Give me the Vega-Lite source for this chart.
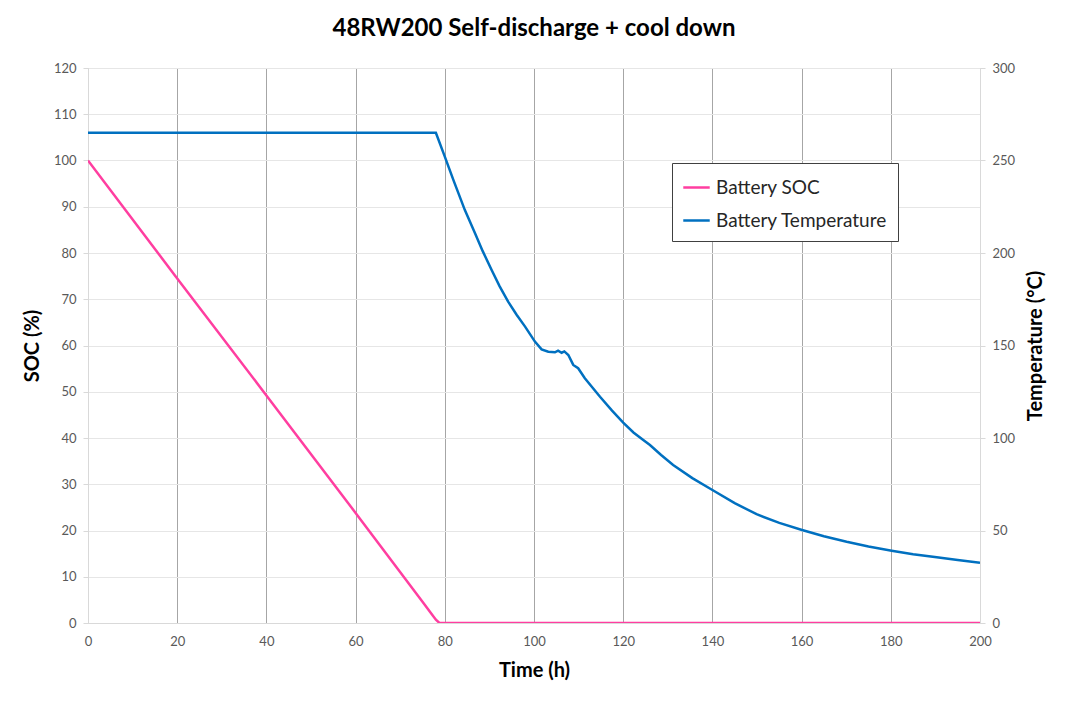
{
  "$schema": "https://vega.github.io/schema/vega-lite/v6.json",
  "autosize": {"type": "none"},
  "padding": {"left": 88, "top": 68, "right": 86, "bottom": 81},
  "width": 892,
  "height": 555,
  "background": "white",
  "title": {
    "text": "48RW200 Self-discharge + cool down",
    "font": "Lato",
    "fontSize": 24,
    "fontWeight": "bold",
    "color": "#000000",
    "anchor": "middle",
    "offset": 21
  },
  "config": {
    "view": {"stroke": null},
    "axis": {
      "labelFont": "Lato",
      "labelFontSize": 13,
      "labelColor": "#595959",
      "titleFont": "Lato",
      "titleFontSize": 20,
      "titleFontWeight": "bold",
      "titleColor": "#000000",
      "domainColor": "#d9d9d9",
      "tickColor": "#d9d9d9"
    }
  },
  "data": {
    "values": [
      {"t": 0, "series": "Battery SOC", "v": 100},
      {"t": 20, "series": "Battery SOC", "v": 74.5},
      {"t": 40, "series": "Battery SOC", "v": 49.2},
      {"t": 60, "series": "Battery SOC", "v": 23.8},
      {"t": 75, "series": "Battery SOC", "v": 4.6},
      {"t": 77, "series": "Battery SOC", "v": 2.0},
      {"t": 78, "series": "Battery SOC", "v": 0.7},
      {"t": 78.8, "series": "Battery SOC", "v": 0},
      {"t": 100, "series": "Battery SOC", "v": 0},
      {"t": 150, "series": "Battery SOC", "v": 0},
      {"t": 200, "series": "Battery SOC", "v": 0},
      {"t": 0, "series": "Battery Temperature", "v": 265},
      {"t": 40, "series": "Battery Temperature", "v": 265},
      {"t": 78.0, "series": "Battery Temperature", "v": 265},
      {"t": 80.0, "series": "Battery Temperature", "v": 252.1},
      {"t": 82.0, "series": "Battery Temperature", "v": 239.0},
      {"t": 84.5, "series": "Battery Temperature", "v": 223.2},
      {"t": 86.8, "series": "Battery Temperature", "v": 210.6},
      {"t": 88.5, "series": "Battery Temperature", "v": 201.0},
      {"t": 90.5, "series": "Battery Temperature", "v": 190.8},
      {"t": 92.3, "series": "Battery Temperature", "v": 182.0},
      {"t": 94.2, "series": "Battery Temperature", "v": 173.7},
      {"t": 96.1, "series": "Battery Temperature", "v": 166.6},
      {"t": 98.0, "series": "Battery Temperature", "v": 160.2},
      {"t": 100.2, "series": "Battery Temperature", "v": 152.1},
      {"t": 101.7, "series": "Battery Temperature", "v": 147.9},
      {"t": 103.2, "series": "Battery Temperature", "v": 146.6},
      {"t": 104.7, "series": "Battery Temperature", "v": 146.3},
      {"t": 105.4, "series": "Battery Temperature", "v": 147.2},
      {"t": 106.2, "series": "Battery Temperature", "v": 146.1},
      {"t": 106.8, "series": "Battery Temperature", "v": 146.8},
      {"t": 107.7, "series": "Battery Temperature", "v": 144.9},
      {"t": 108.8, "series": "Battery Temperature", "v": 139.5},
      {"t": 109.9, "series": "Battery Temperature", "v": 137.7},
      {"t": 111.4, "series": "Battery Temperature", "v": 132.3},
      {"t": 114.8, "series": "Battery Temperature", "v": 122.3},
      {"t": 117.5, "series": "Battery Temperature", "v": 114.8},
      {"t": 120.0, "series": "Battery Temperature", "v": 108.3},
      {"t": 122.3, "series": "Battery Temperature", "v": 103.0},
      {"t": 124.5, "series": "Battery Temperature", "v": 98.9},
      {"t": 126.0, "series": "Battery Temperature", "v": 96.2},
      {"t": 128.5, "series": "Battery Temperature", "v": 90.8},
      {"t": 131.2, "series": "Battery Temperature", "v": 85.4},
      {"t": 135.5, "series": "Battery Temperature", "v": 78.3},
      {"t": 140.0, "series": "Battery Temperature", "v": 71.9},
      {"t": 145.0, "series": "Battery Temperature", "v": 64.8},
      {"t": 149.9, "series": "Battery Temperature", "v": 58.8},
      {"t": 155.0, "series": "Battery Temperature", "v": 54.1},
      {"t": 160.1, "series": "Battery Temperature", "v": 50.3},
      {"t": 165.0, "series": "Battery Temperature", "v": 46.9},
      {"t": 170.1, "series": "Battery Temperature", "v": 43.9},
      {"t": 175.0, "series": "Battery Temperature", "v": 41.3},
      {"t": 180.2, "series": "Battery Temperature", "v": 39.1},
      {"t": 185.0, "series": "Battery Temperature", "v": 37.2},
      {"t": 190.3, "series": "Battery Temperature", "v": 35.5},
      {"t": 195.0, "series": "Battery Temperature", "v": 34.0},
      {"t": 200, "series": "Battery Temperature", "v": 32.6}
    ]
  },
  "layer": [
    {
      "transform": [{"filter": "datum.series === 'Battery SOC'"}],
      "mark": {"type": "line", "strokeWidth": 2.5, "clip": true},
      "encoding": {
        "x": {
          "field": "t",
          "type": "quantitative",
          "scale": {"domain": [0, 200], "nice": false},
          "axis": {
            "title": "Time (h)",
            "values": [0, 20, 40, 60, 80, 100, 120, 140, 160, 180, 200],
            "grid": true,
            "gridColor": "#a6a6a6",
            "gridWidth": 1,
            "ticks": false,
            "labelFlush": false,
            "labelPadding": 12,
            "titlePadding": 12
          }
        },
        "y": {
          "field": "v",
          "type": "quantitative",
          "scale": {"domain": [0, 120], "nice": false},
          "axis": {
            "title": "SOC (%)",
            "orient": "left",
            "values": [0, 10, 20, 30, 40, 50, 60, 70, 80, 90, 100, 110, 120],
            "grid": true,
            "gridColor": "#e6e6e6",
            "tickSize": 5,
            "labelPadding": 7,
            "titlePadding": 11
          }
        },
        "color": {
          "field": "series",
          "type": "nominal",
          "scale": {"domain": ["Battery SOC", "Battery Temperature"], "range": ["#ff3ea0", "#0070c0"]},
          "legend": {
            "title": null,
            "orient": "none",
            "legendX": 584,
            "legendY": 95,
            "symbolType": "stroke",
            "symbolStrokeWidth": 2.5,
            "symbolSize": 700,
            "labelFont": "Lato",
            "labelFontSize": 19,
            "labelColor": "#262626",
            "labelOffset": 5,
            "rowPadding": 8,
            "padding": 10,
            "strokeColor": "#404040",
            "fillColor": "white",
            "labelLimit": 300
          }
        }
      }
    },
    {
      "transform": [{"filter": "datum.series === 'Battery Temperature'"}],
      "mark": {"type": "line", "strokeWidth": 2.5, "clip": true},
      "encoding": {
        "x": {"field": "t", "type": "quantitative"},
        "y": {
          "field": "v",
          "type": "quantitative",
          "scale": {"domain": [0, 300], "nice": false},
          "axis": {
            "title": "Temperature (°C)",
            "orient": "right",
            "values": [0, 50, 100, 150, 200, 250, 300],
            "grid": false,
            "tickSize": 5,
            "labelPadding": 7,
            "titleAngle": -90,
            "titleBaseline": "bottom",
            "titlePadding": 31
          }
        },
        "color": {"field": "series", "type": "nominal"}
      }
    }
  ],
  "resolve": {"scale": {"y": "independent"}}
}
